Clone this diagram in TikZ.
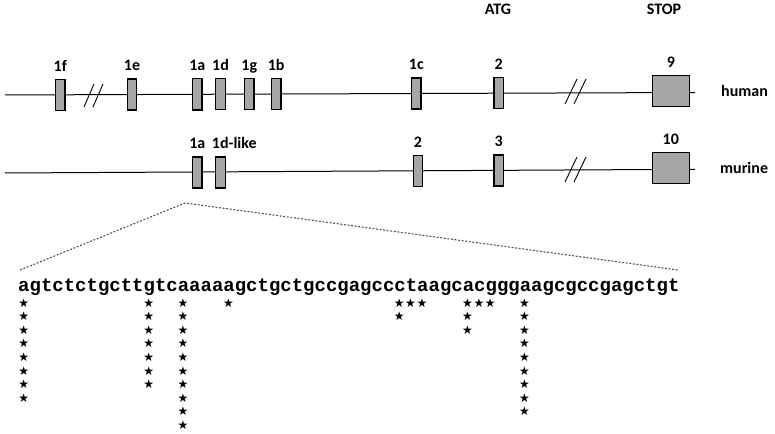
\documentclass[tikz,border=0pt]{standalone}
\usepackage{fontspec}
\setmainfont{Carlito}
\newfontfamily\seqfont{Liberation Mono}
\newfontfamily\symfont{DejaVu Sans}
\usetikzlibrary{positioning}
\definecolor{exongrau}{HTML}{A6A6A6}
\definecolor{lupengrau}{HTML}{555555}

\begin{document}
\begin{tikzpicture}[x=1pt, y=-1pt,
    exon/.style={draw, fill=exongrau, line width=1.4pt, minimum width=9.5pt, minimum height=31pt, inner sep=0pt},
    grossexon/.style={exon, minimum width=37pt, minimum height=30.5pt},
    lbl/.style={font=\fontsize{16}{16}\selectfont\bfseries, inner sep=0pt, anchor=base},
    seq/.style={font=\fontsize{19}{19}\selectfont\seqfont\bfseries, inner sep=0pt, anchor=base west},
    stern/.style={font=\fontsize{12}{12}\selectfont\symfont, inner sep=0pt},
    bruch/.style={line width=0.9pt}]
    \useasboundingbox (0,0) rectangle (775,433);

    % Linien
    \coordinate (h-start) at (5,95);
    \coordinate (h-ende) at (695,92.5);
    \coordinate (m-start) at (5,173);
    \coordinate (m-ende) at (695,169.3);
    \draw[line width=1pt] (h-start) -- (h-ende);
    \draw[line width=1pt] (m-start) -- (m-ende);

    % Unterbrechungen
    \draw[bruch] (84,107) -- (94,84) (93,107) -- (103,84);
    \draw[bruch] (565,104) -- (577,79) (574,104) -- (586,79);
    \draw[bruch] (565,182) -- (577,157) (574,182) -- (586,157);

    % Exons human
    \foreach \n/\x/\y in {1f/60.3/94.8, 1e/132/94.5, 1a/197.3/94.3, 1d/220.5/94.2,
                          1g/249.3/94.1, 1b/276.2/94.0, 1c/416.3/93.5, 2/498.7/93.2} {
        \node[exon] (h-\n) at (\x,\y) {};
        \node[lbl] (h-\n-lbl) at ([yshift=7.5pt]h-\n.north) {\n};
    }
    \node[grossexon] (h-9) at (670.8,91) {};
    \node[lbl] (h-9-lbl) at ([yshift=7.5pt]h-9.north) {9};

    % Exons murine
    \foreach \n/\x/\y in {1a/197.3/172.5, 2/418/170.8, 3/498.7/170.4} {
        \node[exon] (m-\n) at (\x,\y) {};
        \node[lbl] (m-\n-lbl) at ([yshift=7.5pt]m-\n.north) {\n};
    }
    \node[exon] (m-1dl) at (220.5,172.4) {};
    \node[lbl, anchor=base west] (m-1dl-lbl) at ([xshift=-8.8pt, yshift=7.5pt]m-1dl.north) {1d-like};
    \node[grossexon] (m-10) at (670.8,168) {};
    \node[lbl] (m-10-lbl) at ([yshift=7.5pt]m-10.north) {10};

    % Beschriftung
    \node[lbl] (atg) at (498,15) {ATG};
    \node[lbl] (stop) at (664,15) {STOP};
    \node[lbl, anchor=base west] (human) at (721,97) {human};
    \node[lbl, anchor=base west] (murine) at (720,173.3) {murine};

    % Sequenz
    \node[seq] (sequenz) at (18,291) {agtctctgcttgtcaaaaagctgctgccgagccctaagcacgggaagcgccgagctgt};

    % Lupe
    \coordinate (lupe) at (185,203);
    \coordinate (lupe-l) at (20,270);
    \coordinate (lupe-r) at (678,270);
    \draw[lupengrau, line width=1.1pt, dash pattern=on 2pt off 1.6pt] (lupe-l) -- (lupe) -- (lupe-r);

    % Sterne (Spalte/Anzahl)
    \foreach \c/\n in {0/8, 11/7, 14/10, 18/1, 33/2, 34/1, 35/1, 39/3, 40/1, 41/1, 44/9}
        \foreach \r in {1,...,\n}
            \node[stern] (s-\c-\r) at ({18+11.38*(\c+0.5)}, {303+13.55*(\r-1)}) {★};
\end{tikzpicture}
\end{document}
